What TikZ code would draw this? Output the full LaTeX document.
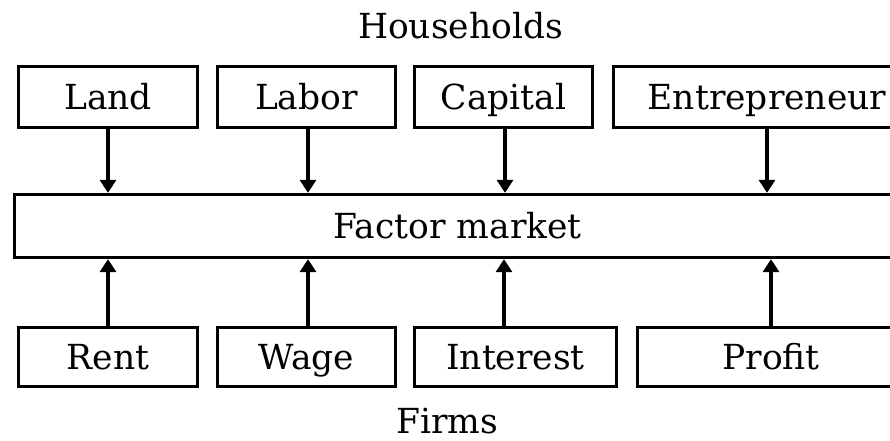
\documentclass[tikz,border=0pt]{standalone}
\usepackage{fontspec}
\setmainfont{DejaVu Serif}
\usepackage{tikz}
\usetikzlibrary{arrows.meta, positioning}
\tikzset{
  block/.style={rectangle, draw=black, line width=3.3pt,
    text height=25pt, text depth=0pt, inner sep=0pt},
  toprow/.style={block, minimum height=61pt},
  botrow/.style={block, minimum height=59pt},
  label/.style={anchor=base, inner sep=0pt, text depth=0pt},
  arrow/.style={-{Triangle[width=16pt,length=13pt]}, line width=3.3pt, color=black}
}

\begin{document}
\begin{tikzpicture}[x=1pt, y=1pt, font=\fontsize{34.5}{40}\selectfont]
    \useasboundingbox (0,0) rectangle (890,440);
    \clip (0,0) rectangle (890,440);
    % factor owners
    \node[toprow, minimum width=179pt] (land) at (108,343) {Land};
    \node[toprow, minimum width=178pt] (labor) at (306.5,343) {Labor};
    \node[toprow, minimum width=178pt] (capital) at (503.5,343) {Capital};
    \node[toprow, minimum width=307pt] (entre) at (767,343) {Entrepreneur};
    % market
    \node[block, minimum width=886pt, minimum height=63pt] (market) at (457.5,214) {Factor market};
    % factor incomes
    \node[botrow, minimum width=179pt] (rent) at (108,83) {Rent};
    \node[botrow, minimum width=178pt] (wage) at (306.5,83) {Wage};
    \node[botrow, minimum width=202pt] (interest) at (515.5,83) {Interest};
    \node[botrow, minimum width=267pt] (profit) at (771,83) {Profit};
    \node[label] (hh) at (460.5,401) {Households};
    \node[label] (firms) at (447,7) {Firms};
    \draw[arrow] (land.south) -- (land.south |- market.north);
    \draw[arrow] ([xshift=1.5pt]labor.south) -- ([xshift=1.5pt]labor.south |- market.north);
    \draw[arrow] ([xshift=1.5pt]capital.south) -- ([xshift=1.5pt]capital.south |- market.north);
    \draw[arrow] (entre.south) -- (entre.south |- market.north);
    \draw[arrow] (rent.north) -- (rent.north |- market.south);
    \draw[arrow] ([xshift=1.5pt]wage.north) -- ([xshift=1.5pt]wage.north |- market.south);
    \draw[arrow] ([xshift=-11.5pt]interest.north) -- ([xshift=-11.5pt]interest.north |- market.south);
    \draw[arrow] (profit.north) -- (profit.north |- market.south);
\end{tikzpicture}
\end{document}
